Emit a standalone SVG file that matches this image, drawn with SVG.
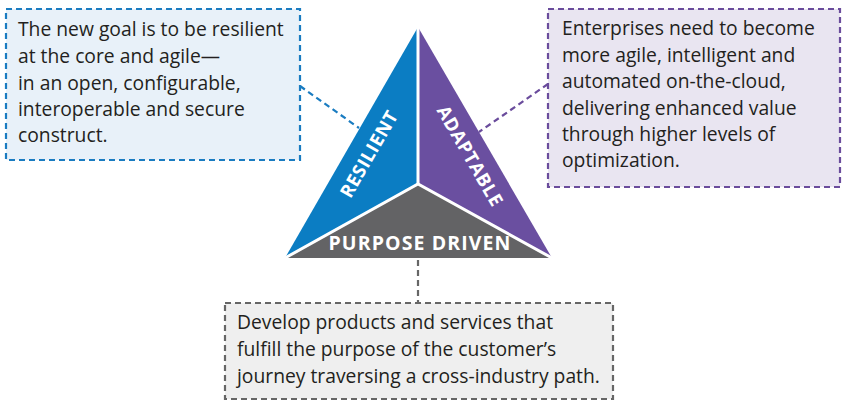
<svg xmlns="http://www.w3.org/2000/svg" width="842" height="401" viewBox="0 0 842 401">
<style>
.body{font-family:"Open Sans","Liberation Sans",sans-serif;font-size:19.3px;fill:#231f20}
.lbl{font-family:"Open Sans","Liberation Sans",sans-serif;font-weight:bold;font-size:18.5px;letter-spacing:0.6px;fill:#ffffff}
.conn{fill:none;stroke-width:2.2;stroke-dasharray:6 4}
</style>
<rect width="842" height="401" fill="#ffffff"/>
<g id="connectors">
<line class="conn" x1="300" y1="86" x2="359" y2="128" stroke="#1a7cc1"/>
<line class="conn" x1="548" y1="84" x2="479" y2="132" stroke="#6a4c9c"/>
<line class="conn" x1="418" y1="260" x2="418" y2="303" stroke="#666666"/>
</g>
<g id="triangle">
<polygon points="418,27 418,184 285,258" fill="#0b7dc3"/>
<polygon points="418,27 552,258 418,184" fill="#6a4fa0"/>
<polygon points="285,258 418,184 552,258" fill="#636365"/>
<polyline points="285,258 418,184 552,258" fill="none" stroke="#ffffff" stroke-width="3"/>
<line x1="418" y1="27" x2="418" y2="184" stroke="#ffffff" stroke-width="3"/>
</g>
<g id="resilient">
<text class="lbl" transform="translate(369,154) rotate(-60)" text-anchor="middle" dy="6.5">RESILIENT</text>
</g>
<g id="adaptable">
<text class="lbl" transform="translate(470,156) rotate(60)" text-anchor="middle" dy="6.5">ADAPTABLE</text>
</g>
<g id="purpose">
<text class="lbl" x="420" y="250" text-anchor="middle" style="font-size:19.5px;letter-spacing:1.1px">PURPOSE DRIVEN</text>
</g>
<g id="box-left">
<rect x="6" y="9" width="294" height="151" fill="#e8f1f9" stroke="#1a7cc1" stroke-width="2.2" stroke-dasharray="6 4"/>
<text class="body" x="18" y="36">The new goal is to be resilient</text>
<text class="body" x="18" y="63">at the core and agile—</text>
<text class="body" x="18" y="90">in an open, configurable,</text>
<text class="body" x="18" y="116">interoperable and secure</text>
<text class="body" x="18" y="142">construct.</text>
</g>
<g id="box-right">
<rect x="548" y="9" width="292" height="178" fill="#e9e5f1" stroke="#6a4c9c" stroke-width="2.2" stroke-dasharray="6 4"/>
<text class="body" x="562" y="35">Enterprises need to become</text>
<text class="body" x="562" y="62">more agile, intelligent and</text>
<text class="body" x="562" y="88">automated on-the-cloud,</text>
<text class="body" x="562" y="115">delivering enhanced value</text>
<text class="body" x="562" y="141">through higher levels of</text>
<text class="body" x="562" y="167">optimization.</text>
</g>
<g id="box-bottom">
<rect x="225" y="303" width="388" height="96" fill="#efefef" stroke="#666666" stroke-width="2.2" stroke-dasharray="6 4"/>
<text class="body" x="237" y="329">Develop products and services that</text>
<text class="body" x="237" y="356">fulfill the purpose of the customer’s</text>
<text class="body" x="237" y="383">journey traversing a cross-industry path.</text>
</g>
</svg>
